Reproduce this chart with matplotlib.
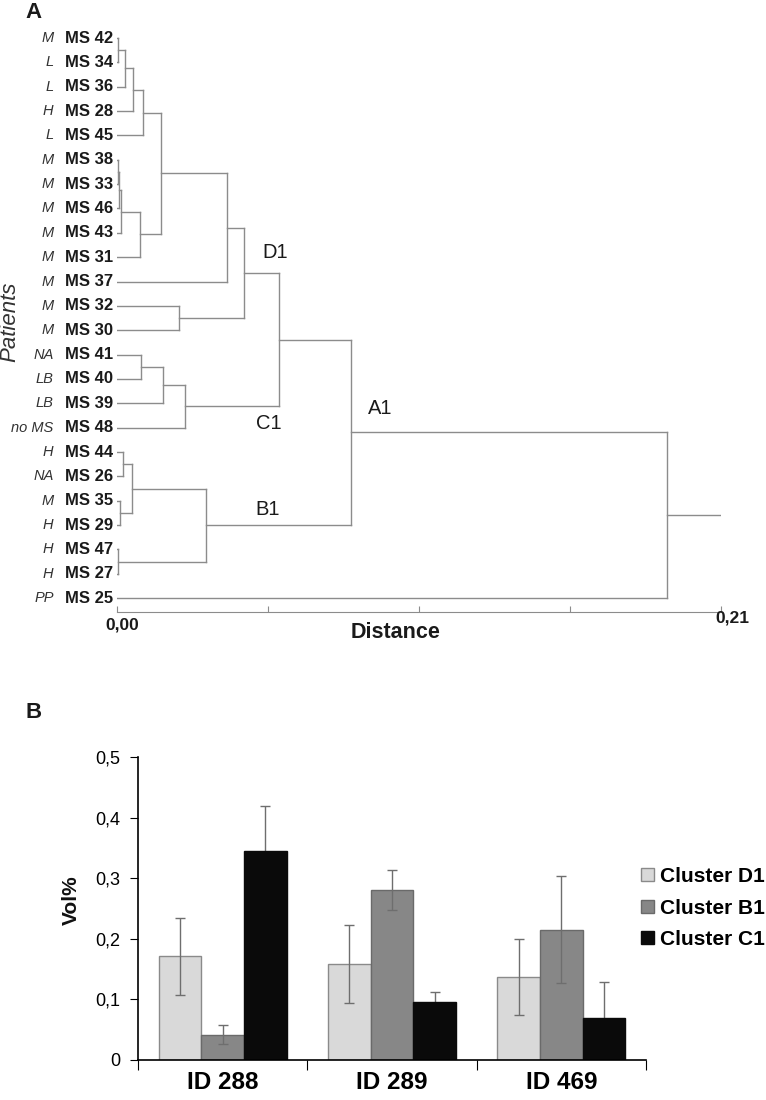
import matplotlib
matplotlib.use("Agg")
import matplotlib.pyplot as plt
from matplotlib.patches import Patch

plt.rcParams['font.family'] = ['Liberation Sans', 'DejaVu Sans']

# --- Panel A: dendrogram data ---
leaves = ["MS 42", "MS 34", "MS 36", "MS 28", "MS 45", "MS 38", "MS 33", "MS 46",
          "MS 43", "MS 31", "MS 37", "MS 32", "MS 30", "MS 41", "MS 40", "MS 39",
          "MS 48", "MS 44", "MS 26", "MS 35", "MS 29", "MS 47", "MS 27", "MS 25"]
groups = ["M", "L", "L", "H", "L", "M", "M", "M", "M", "M", "M", "M", "M",
          "NA", "LB", "LB", "no MS", "H", "NA", "M", "H", "H", "H", "PP"]
# merges: (left node, right node, distance); leaves are 0..23, merge k is node 24+k
merges = [(0, 1, 0.00045), (24, 2, 0.0028), (25, 3, 0.0055), (26, 4, 0.0092),
          (5, 6, 0.0002), (28, 7, 0.0008), (29, 8, 0.0013), (30, 9, 0.0081),
          (27, 31, 0.0154), (32, 10, 0.0384), (11, 12, 0.0214), (33, 34, 0.0440),
          (13, 14, 0.0084), (36, 15, 0.0161), (37, 16, 0.0238), (35, 38, 0.0563),
          (17, 18, 0.0020), (19, 20, 0.0012), (40, 41, 0.0051), (21, 22, 0.0005),
          (42, 43, 0.0308), (39, 44, 0.0814), (45, 23, 0.1912)]
max_distance = 0.21
cluster_names = ["D1", "C1", "B1", "A1"]
cluster_pos = [(0.0504, 8.79), (0.0483, 15.81), (0.0480, 19.38), (0.0873, 15.2)]

# --- Panel B: bar data ---
proteins = ["ID 288", "ID 289", "ID 469"]
series = ["Cluster D1", "Cluster B1", "Cluster C1"]
values = [[0.171, 0.158, 0.137],
          [0.042, 0.280, 0.215],
          [0.345, 0.095, 0.070]]
errors = [[0.063, 0.064, 0.062],
          [0.015, 0.033, 0.088],
          [0.074, 0.018, 0.059]]
colors = ["#d9d9d9", "#878787", "#0a0a0a"]
edges = ["#8a8a8a", "#6a6a6a", "#0a0a0a"]
err_z = [3, 3, 1]  # black bars hide the lower half of their error bars

W, H = 766, 1100
fig = plt.figure(figsize=(W / 100, H / 100), dpi=100)

line_col = "#8c8c8c"

# ---------- Panel A ----------
axA = fig.add_axes([117 / W, 1 - 612 / H, 604 / W, 582 / H])
axA.set_xlim(0, max_distance)
axA.set_ylim(23.57, -0.33)

# node positions: (x distance, y position)
pos = {i: (0.0, float(i)) for i in range(len(leaves))}
for k, (a, b, d) in enumerate(merges):
    xa, ya = pos[a]
    xb, yb = pos[b]
    axA.plot([xa, d], [ya, ya], color=line_col, lw=1)
    axA.plot([xb, d], [yb, yb], color=line_col, lw=1)
    axA.plot([d, d], [ya, yb], color=line_col, lw=1)
    pos[len(leaves) + k] = (d, (ya + yb) / 2)
root_x, root_y = pos[len(leaves) + len(merges) - 1]
axA.plot([root_x, max_distance], [root_y, root_y], color=line_col, lw=1)

for i, (name, grp) in enumerate(zip(leaves, groups)):
    axA.text(-0.0066, i, name, transform=axA.get_yaxis_transform(),
             ha='right', va='center', fontsize=12, fontweight='bold', color='#1a1a1a')
    axA.text(-0.105, i, grp, transform=axA.get_yaxis_transform(),
             ha='right', va='center', fontsize=10.5, style='italic', color='#333333')

for name, (cx, cy) in zip(cluster_names, cluster_pos):
    axA.text(cx, cy, name, ha='left', va='center', fontsize=14.5, color='#1a1a1a')

for s in ['left', 'top', 'right']:
    axA.spines[s].set_visible(False)
axA.spines['bottom'].set_color(line_col)
axA.set_yticks([])
axA.set_xticks([max_distance * q / 4 for q in range(5)])
axA.set_xticklabels([])
axA.tick_params(axis='x', direction='in', length=4, color=line_col)
fig.text(122 / W, 1 - 625 / H, "0,00", ha='center', va='center', fontsize=12.5,
         fontweight='bold', color='#1a1a1a')
fig.text(732 / W, 1 - 618 / H, "0,21", ha='center', va='center', fontsize=12.5,
         fontweight='bold', color='#1a1a1a')
fig.text(396 / W, 1 - 632 / H, "Distance", ha='center', va='center', fontsize=15.5,
         fontweight='bold', color='#1a1a1a')
fig.text(10 / W, 1 - 322 / H, "Patients", ha='center', va='center', rotation=90,
         fontsize=16, style='italic', color='#333333')
fig.text(33 / W, 1 - 12 / H, "A", ha='center', va='center', fontsize=16,
         fontweight='bold', color='#1a1a1a')

# ---------- Panel B ----------
axB = fig.add_axes([138 / W, 1 - 1060 / H, 508 / W, 303 / H])
bar_w = 0.252
for j, name in enumerate(series):
    xs = [i + (j - 1) * bar_w for i in range(len(proteins))]
    axB.bar(xs, values[j], width=bar_w, color=colors[j], edgecolor=edges[j],
            linewidth=1, label=name, zorder=2)
    axB.errorbar(xs, values[j], yerr=errors[j], fmt='none', ecolor='#6e6e6e',
                 elinewidth=1, capsize=3.5, capthick=1, zorder=err_z[j])

axB.set_xlim(-0.5, 2.5)
axB.set_ylim(0, 0.5)
axB.set_yticks([0, 0.1, 0.2, 0.3, 0.4, 0.5])
axB.set_yticklabels(["0", "0,1", "0,2", "0,3", "0,4", "0,5"], fontsize=13)
axB.set_xticks([-0.5, 0.5, 1.5, 2.5])
axB.set_xticklabels([])
axB.set_xticks(range(len(proteins)), minor=True)
axB.set_xticklabels(proteins, minor=True, fontsize=17.5, fontweight='bold')
axB.tick_params(axis='x', which='minor', length=0, pad=8)
axB.tick_params(axis='x', which='major', direction='out', length=7)
axB.tick_params(axis='y', direction='out', length=6, pad=7)
for s in ['top', 'right']:
    axB.spines[s].set_visible(False)
for s in ['left', 'bottom']:
    axB.spines[s].set_linewidth(1.2)

fig.text(71 / W, 1 - 900 / H, "Vol%", ha='center', va='center', rotation=90,
         fontsize=15, fontweight='bold', color='#111111')
fig.text(34 / W, 1 - 712 / H, "B", ha='center', va='center', fontsize=16,
         fontweight='bold', color='#1a1a1a')

handles = [Patch(facecolor=c, edgecolor=e) for c, e in zip(colors, edges)]
fig.legend(handles, series, loc='center left', bbox_to_anchor=(641 / W, 1 - 908 / H),
           frameon=False, borderpad=0, borderaxespad=0, handlelength=0.6,
           handleheight=0.6, handletextpad=0.3, labelspacing=0.6,
           prop={'size': 15, 'weight': 'bold'})

fig.savefig("out.png", dpi=100)
